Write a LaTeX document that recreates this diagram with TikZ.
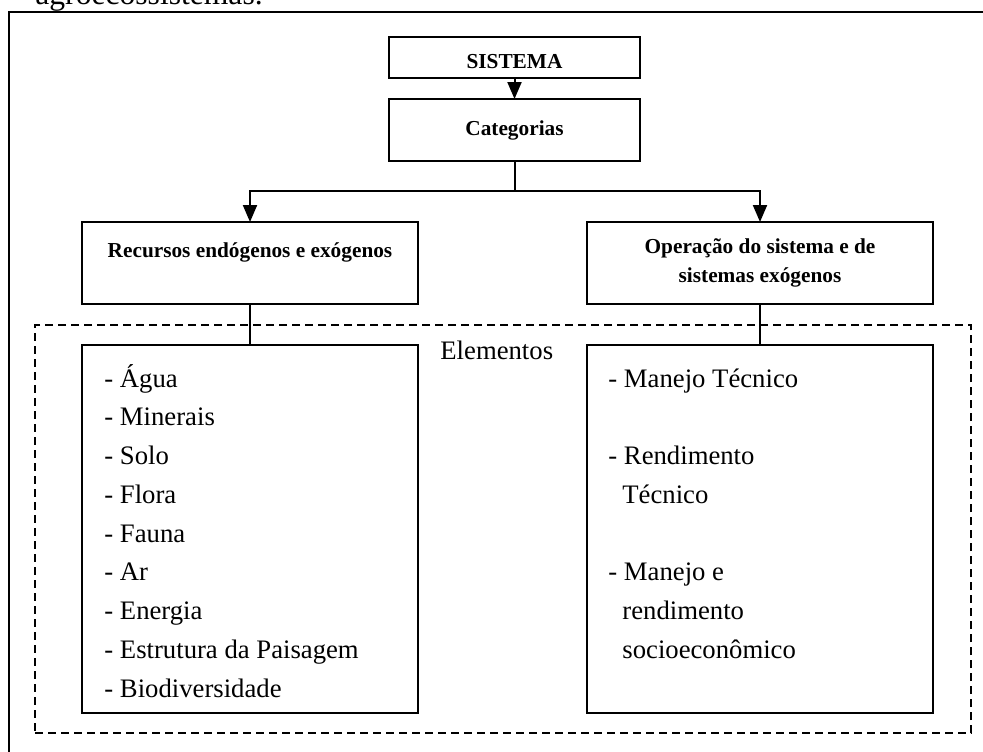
\documentclass[tikz,border=0pt]{standalone}
\usepackage{fontspec}
\setmainfont{Liberation Serif}
\usetikzlibrary{arrows.meta}
\begin{document}
\begin{tikzpicture}[x=0.5pt,y=-0.5pt,
  box/.style={draw,line width=1pt,inner sep=0pt,outer sep=0pt},
  dashbox/.style={draw,line width=0.7pt,dash pattern=on 4pt off 2.5pt,inner sep=0pt,outer sep=0pt},
  frame/.style={draw,line width=0.7pt},
  conn/.style={line width=1pt},
  arr/.style={conn,-{Triangle[width=7pt,length=8.5pt]}},
  txt/.style={inner sep=0pt,anchor=base west,font=\fontsize{13.35}{16}\selectfont},
  btxt/.style={inner sep=0pt,anchor=base,font=\fontsize{10.65}{13}\selectfont\bfseries}]
\clip (0,0) rectangle (983,751);
\node[inner sep=0pt,anchor=base west,font=\fontsize{15.8}{18}\selectfont] (cap) at (35,4) {agroecossistemas.};
\draw[frame] (9,12) rectangle (1010,780);
% dashed group
\node[dashbox,minimum width=468pt,minimum height=204pt] (elem) at (503,529) {};
\node[txt] (elemt) at (440,359) {Elementos};
% boxes
\node[box,minimum width=125.5pt,minimum height=20.5pt] (sis) at (514.5,57.5) {};
\node[btxt] (sist) at (514.5,68) {SISTEMA};
\node[box,minimum width=125.5pt,minimum height=31pt] (cat) at (514.5,130) {};
\node[btxt] (catt) at (514.5,135) {Categorias};
\node[box,minimum width=168pt,minimum height=41pt] (rec) at (250,263) {};
\node[btxt] (rect) at (250,257) {Recursos endógenos e exógenos};
\node[box,minimum width=173pt,minimum height=41pt] (ope) at (760,263) {};
\node[btxt] (opet1) at (760,253) {Operação do sistema e de};
\node[btxt] (opet2) at (760,282) {sistemas exógenos};
\node[box,minimum width=168pt,minimum height=184pt] (el1) at (250,529) {};
\node[box,minimum width=173pt,minimum height=184pt] (el2) at (760,529) {};
% connectors
\coordinate (j) at (514.5,191);
\draw[arr] (sis.south) -- (cat.north);
\draw[conn] (cat.south) -- (j);
\draw[arr] (j) -| (rec.north);
\draw[arr] (j) -| (ope.north);
\draw[conn] (rec.south) -- (el1.north);
\draw[conn] (ope.south) -- (el2.north);
% left list
\foreach \t [count=\i from 0] in {- Água,- Minerais,- Solo,- Flora,- Fauna,- Ar,- Energia,- Estrutura da Paisagem,- Biodiversidade}
  \node[txt] (l\i) at (104,{387+38.75*\i}) {\t};
% right list
\node[txt] (r0) at (608,387) {- Manejo Técnico};
\node[txt] (r2) at (608,464.5) {- Rendimento};
\node[txt] (r3) at (622,503.25) {Técnico};
\node[txt] (r5) at (608,580.75) {- Manejo e};
\node[txt] (r6) at (622,619.5) {rendimento};
\node[txt] (r7) at (622,658.25) {socioeconômico};
\end{tikzpicture}
\end{document}
